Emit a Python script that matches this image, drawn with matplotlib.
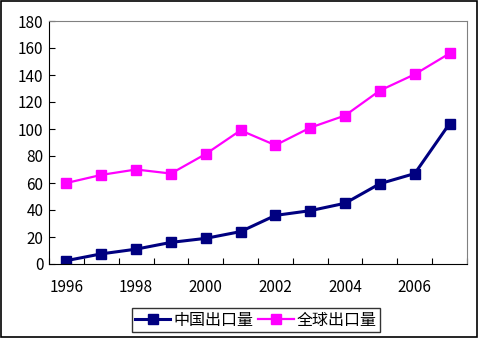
import numpy as np
import matplotlib.pyplot as plt
from matplotlib.lines import Line2D

plt.rcParams['font.family'] = ['Noto Sans CJK SC', 'DejaVu Sans']

# Datos
years = [1996, 1997, 1998, 1999, 2000, 2001, 2002, 2003, 2004, 2005, 2006, 2007]
china = [2.5, 7.5, 11, 16, 19, 24, 36, 39.5, 45, 59.5, 67, 104]
world = [60, 66, 70, 67, 81.5, 99, 88, 101, 110, 128.5, 140.5, 156]
labels = ['中国出口量', '全球出口量']

fig = plt.figure(figsize=(4.78, 3.38), dpi=100)
ax = fig.add_axes([49/478, 1 - 264/338, 418/478, 243/338])

x = np.arange(len(years)) + 0.5
ax.plot(x, china, color='#000080', lw=2.2, marker='s', ms=6.5, label=labels[0])
ax.plot(x, world, color='#FF00FF', lw=1.6, marker='s', ms=7.5, label=labels[1])

ax.set_xlim(0, len(years))
ax.set_ylim(0, 180)
ax.set_yticks(np.arange(0, 181, 20))
ax.set_xticks(np.arange(0, len(years) + 1))
ax.set_xticklabels([])
ax.set_xticks(x[::2], minor=True)
ax.set_xticklabels([str(y) for y in years[::2]], minor=True)
ax.tick_params(axis='x', which='major', direction='in', length=4, width=0.8)
ax.tick_params(axis='x', which='minor', length=0, pad=11, labelsize=11)
ax.tick_params(axis='y', direction='in', length=4, width=0.8, labelsize=11, pad=4)

for s in ('top', 'right'):
    ax.spines[s].set_color('#808080')
for s in ('left', 'bottom'):
    ax.spines[s].set_color('black')

# Borde exterior
fig.patches.append(plt.Rectangle((0.002, 0.003), 0.995, 0.994, transform=fig.transFigure,
                                 fill=False, edgecolor='black', lw=1.2))

handles = [Line2D([], [], color='#000080', lw=2.2, marker='s', ms=6.5),
           Line2D([], [], color='#FF00FF', lw=1.6, marker='s', ms=7.5)]
leg = fig.legend(handles, labels, loc='center', bbox_to_anchor=(256/478, 1 - 320/338),
                 ncol=2, frameon=True, fancybox=False, edgecolor='black',
                 fontsize=11.5, handlelength=2.2, handletextpad=0.2, columnspacing=0.3,
                 borderpad=0.2)
leg.get_frame().set_linewidth(1.0)

plt.savefig('out.png', dpi=100)
